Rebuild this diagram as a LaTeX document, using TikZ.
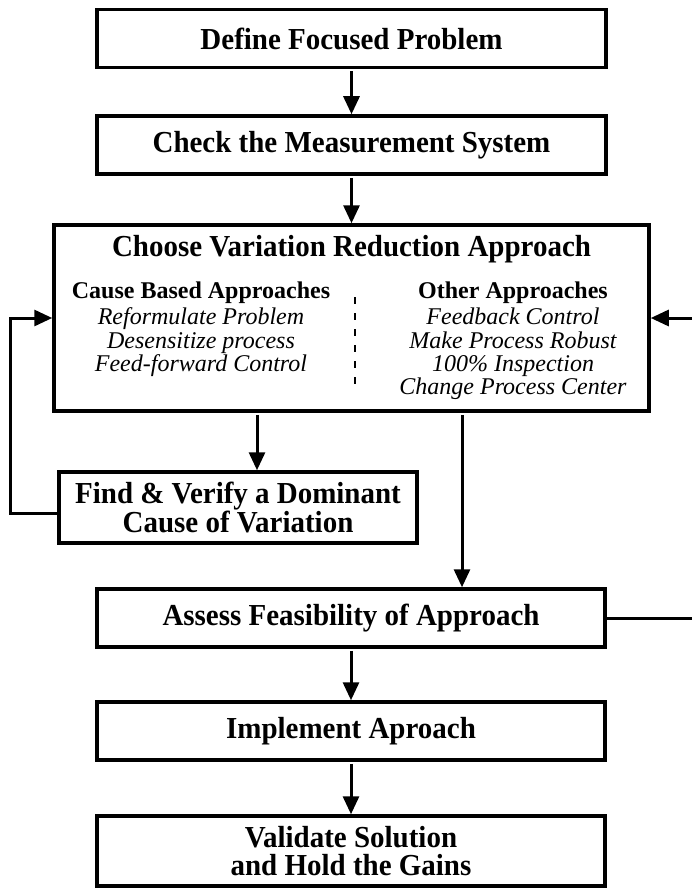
\documentclass[tikz,border=0pt]{standalone}
\usepackage{fontspec}
\setmainfont{Liberation Serif}
\newfontfamily\stepfont{Liberation Serif}[FakeStretch=0.95]
\usetikzlibrary{arrows.meta}

\tikzset{
  stepbox/.style={draw, line width=3.5pt, inner sep=0pt, align=center,
    minimum height=58pt, font=\stepfont\fontsize{30.5}{28.5}\selectfont\bfseries},
  flow/.style={line width=3pt, -{Triangle[length=18pt,width=16pt]}},
  approach/.style={inner sep=0pt, align=center, anchor=north,
    font=\fontsize{24}{23.3}\selectfont\itshape},
}

\begin{document}
\begin{tikzpicture}[x=1pt,y=-1pt]
  \clip (0,0) rectangle (692,888);

  \node[stepbox, minimum width=509pt] (define) at (351.5,38.5) {Define Focused Problem};
  \node[stepbox, minimum width=509pt] (check) at (351.5,145) {Check the Measurement System};
  \node[stepbox, minimum width=595pt, minimum height=186pt] (choose) at (351.5,318) {};
  \node[stepbox, draw=none, minimum height=0pt] (choosetitle) at (351.5,249) {Choose Variation Reduction Approach};
  \node[approach] (causecol) at (201,282)
    {{\upshape\bfseries Cause Based Approaches}\\[2.7pt]
     Reformulate Problem\\ Desensitize process\\ Feed-forward Control};
  \node[approach] (othercol) at (513,282)
    {{\upshape\bfseries Other Approaches}\\[2.7pt]
     Feedback Control\\ Make Process Robust\\ 100\% Inspection\\ Change Process Center};
  \draw[line width=2.5pt, dash pattern=on 7pt off 9pt] (355,297) -- (355,390);

  \node[stepbox, minimum width=358pt, minimum height=71pt] (find) at (238,507.5)
    {Find \& Verify a Dominant\\ Cause of Variation};
  \node[stepbox, minimum width=508pt] (assess) at (351,618) {Assess Feasibility of Approach};
  \node[stepbox, minimum width=508pt] (implement) at (351,731) {Implement Aproach};
  \node[stepbox, minimum width=508pt, minimum height=70pt] (validate) at (351,851)
    {Validate Solution\\ and Hold the Gains};

  \coordinate (causeX) at (257,0);
  \coordinate (otherX) at (462,0);
  \coordinate (backL) at (10,513);
  \coordinate (backR) at (705,0);

  \path[flow, shorten <=2pt]
    (define) edge (check)
    (check) edge (choose)
    (choose.south -| causeX) edge (find.north -| causeX)
    (choose.south -| otherX) edge (assess.north -| otherX)
    (assess) edge (implement)
    (implement) edge (validate);

  \draw[flow] (find.west |- backL) -- (backL) |- (choose.west);
  \draw[flow] (assess.east) -- (assess.east -| backR) |- (choose.east);
\end{tikzpicture}
\end{document}
